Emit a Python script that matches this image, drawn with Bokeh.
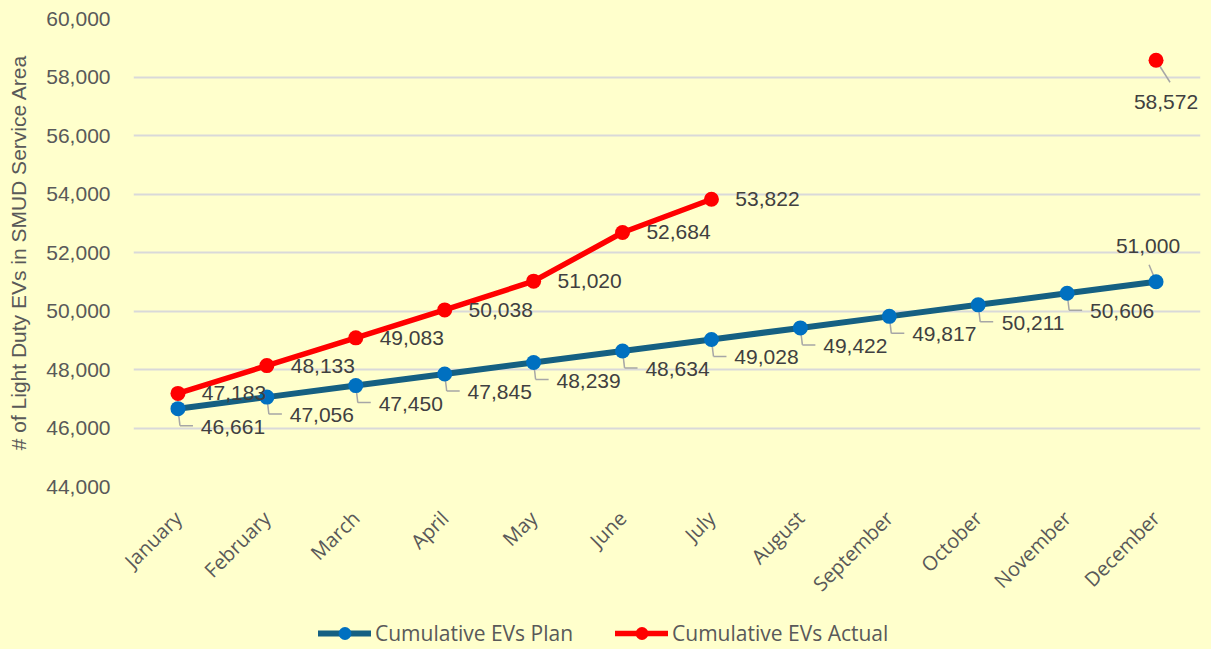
import math
import numpy as np
from bokeh.plotting import figure
from bokeh.layouts import column
from bokeh.models import (ColumnDataSource, FactorRange, Range1d, LabelSet, Legend, LegendItem,
                          NumeralTickFormatter, FixedTicker)
from bokeh.core.properties import value
from bokeh.transform import dodge
from bokeh.embed import file_html
from bokeh.resources import INLINE

# ---------------- data ----------------
months = ["January", "February", "March", "April", "May", "June", "July",
          "August", "September", "October", "November", "December"]
plan = [46661, 47056, 47450, 47845, 48239, 48634, 49028, 49422, 49817, 50211, 50606, 51000]
actual = [47183, 48133, 49083, 50038, 51020, 52684, 53822,
          float("nan"), float("nan"), float("nan"), float("nan"), 58572]
y_ticks = [44000, 46000, 48000, 50000, 52000, 54000, 56000, 58000, 60000]
series_names = ["Cumulative EVs Plan", "Cumulative EVs Actual"]
y_title = "# of Light Duty EVs in SMUD Service Area"

# ---------------- style ----------------
BG = "#FFFFCC"
PLAN_LINE = "#156082"
PLAN_MARK = "#0070C0"
ACT = "#FF0000"
GRID = "#D9D9D9"
AXIS_TXT = "#595959"
LBL_TXT = "#404040"
LEADER = "#A6A6A6"
LBL_FONT = "Liberation Sans"
CAT_FONT = "Open Sans"

W = 1211
H_MAIN, H_LEG = 614, 35
ML, MR, MT, MB = 133, 11, 18, 128
FW = W - ML - MR
FH = H_MAIN - MT - MB
CW = FW / len(months)                      # px per category
PX = (y_ticks[-1] - y_ticks[0]) / FH       # data units per px

p = figure(x_range=FactorRange(*months), y_range=Range1d(y_ticks[0], y_ticks[-1]),
           width=W, height=H_MAIN, output_backend="svg", toolbar_location=None,
           min_border_left=ML, min_border_right=MR, min_border_top=MT, min_border_bottom=MB,
           background_fill_color=BG, border_fill_color=BG, outline_line_color=None)

p.xgrid.grid_line_color = None
p.ygrid.grid_line_color = GRID
p.ygrid.grid_line_width = 2

p.yaxis.ticker = FixedTicker(ticks=y_ticks)
p.yaxis.formatter = NumeralTickFormatter(format="0,0")
p.yaxis.major_label_text_font = LBL_FONT
p.yaxis.major_label_text_font_size = "21px"
p.yaxis.major_label_text_color = AXIS_TXT
p.yaxis.axis_label = y_title
p.yaxis.axis_label_text_font = LBL_FONT
p.yaxis.axis_label_text_font_size = "21px"
p.yaxis.axis_label_text_font_style = "normal"
p.yaxis.axis_label_text_color = AXIS_TXT
p.yaxis.axis_label_standoff = 13
p.yaxis.major_label_standoff = 23

p.xaxis.major_label_orientation = math.pi / 4
p.xaxis.major_label_text_font = CAT_FONT
p.xaxis.major_label_text_font_size = "20px"
p.xaxis.major_label_text_color = AXIS_TXT
p.xaxis.major_label_standoff = 28

for ax in (p.xaxis, p.yaxis):
    ax.axis_line_color = None
    ax.major_tick_line_color = None
    ax.minor_tick_line_color = None
    ax.major_tick_out = 0
    ax.major_tick_in = 0

# ---------------- leader lines ----------------
plan_arr = np.array(plan, dtype=float)
act_arr = np.array(actual, dtype=float)

n_in = len(months) - 1
lead_src = ColumnDataSource(dict(month=months[:n_in], v=plan_arr[:n_in],
                                 knee=plan_arr[:n_in] - 17 * PX))
p.segment(x0=dodge("month", 0, range=p.x_range), y0="v",
          x1=dodge("month", 2 / CW, range=p.x_range), y1="knee",
          source=lead_src, line_color=LEADER, line_width=1.5)
p.segment(x0=dodge("month", 2 / CW, range=p.x_range), y0="knee",
          x1=dodge("month", 15 / CW, range=p.x_range), y1="knee",
          source=lead_src, line_color=LEADER, line_width=1.5)

dec_plan_src = ColumnDataSource(dict(month=months[-1:], v=plan_arr[-1:],
                                     end=plan_arr[-1:] + 17 * PX))
p.segment(x0=dodge("month", 0, range=p.x_range), y0="v",
          x1=dodge("month", -7 / CW, range=p.x_range), y1="end",
          source=dec_plan_src, line_color=LEADER, line_width=1.5)
dec_act_src = ColumnDataSource(dict(month=months[-1:], v=act_arr[-1:],
                                    end=act_arr[-1:] - 22 * PX))
p.segment(x0=dodge("month", 0, range=p.x_range), y0="v",
          x1=dodge("month", 14 / CW, range=p.x_range), y1="end",
          source=dec_act_src, line_color=LEADER, line_width=1.5)

# ---------------- series ----------------
PLAN_STYLE = dict(line_color=PLAN_LINE, line_width=6, line_join="round", line_cap="round")
ACT_STYLE = dict(line_color=ACT, line_width=5.5, line_join="round", line_cap="round")
src = ColumnDataSource(dict(month=months, plan=plan, actual=actual))
p.line("month", "plan", source=src, **PLAN_STYLE)
p.scatter("month", "plan", source=src, size=15, fill_color=PLAN_MARK, line_color=None)
p.line("month", "actual", source=src, **ACT_STYLE)
p.scatter("month", "actual", source=src, size=15, fill_color=ACT, line_color=None)

# ---------------- data labels ----------------
plan_xoff = [55] * n_in + [-8]
plan_yoff = [-18] * n_in + [36]
plan_lbl = ColumnDataSource(dict(month=months, v=plan, t=[f"{v:,}" for v in plan],
                                 xo=plan_xoff, yo=plan_yoff))
p.add_layout(LabelSet(x="month", y="v", text="t", source=plan_lbl, x_offset="xo", y_offset="yo",
                      text_align="center", text_baseline="middle", text_font=value(LBL_FONT),
                      text_font_size="21px", text_color=LBL_TXT))

act_idx = [i for i, v in enumerate(actual) if not math.isnan(v)]
act_xoff = [56 if i < n_in else 10 for i in act_idx]
act_yoff = [0 if i < n_in else -42 for i in act_idx]
act_lbl = ColumnDataSource(dict(month=[months[i] for i in act_idx],
                                v=[actual[i] for i in act_idx],
                                t=[f"{int(actual[i]):,}" for i in act_idx],
                                xo=act_xoff, yo=act_yoff))
p.add_layout(LabelSet(x="month", y="v", text="t", source=act_lbl, x_offset="xo", y_offset="yo",
                      text_align="center", text_baseline="middle", text_font=value(LBL_FONT),
                      text_font_size="21px", text_color=LBL_TXT))

# ---------------- legend strip (separate small figure under the chart) ----------------
lg = figure(width=W, height=H_LEG, output_backend="svg", toolbar_location=None,
            x_range=Range1d(0, 1), y_range=Range1d(0, 1),
            x_axis_location=None, y_axis_location=None,
            min_border_left=0, min_border_right=0, min_border_top=0, min_border_bottom=0,
            background_fill_color=BG, border_fill_color=BG, outline_line_color=None)
lg.grid.visible = False
dummy = ColumnDataSource(dict(x=[float("nan")], y=[float("nan")]))
lpl = lg.line("x", "y", source=dummy, **PLAN_STYLE)
lps = lg.scatter("x", "y", source=dummy, size=15, fill_color=PLAN_MARK, line_color=None)
lal = lg.line("x", "y", source=dummy, **ACT_STYLE)
las = lg.scatter("x", "y", source=dummy, size=15, fill_color=ACT, line_color=None)
legend = Legend(items=[LegendItem(label=series_names[0], renderers=[lpl, lps]),
                       LegendItem(label=series_names[1], renderers=[lal, las])],
                orientation="horizontal", location=(318 - ML, 0),
                background_fill_alpha=0, border_line_alpha=0,
                label_text_font=CAT_FONT, label_text_font_size="21px",
                label_text_color=AXIS_TXT, glyph_width=53, glyph_height=32,
                label_standoff=4, spacing=42, padding=0, margin=0)
lg.add_layout(legend)

layout = column(p, lg, spacing=0, styles={"background-color": BG})
open("out.html", "w").write(file_html(layout, INLINE))
